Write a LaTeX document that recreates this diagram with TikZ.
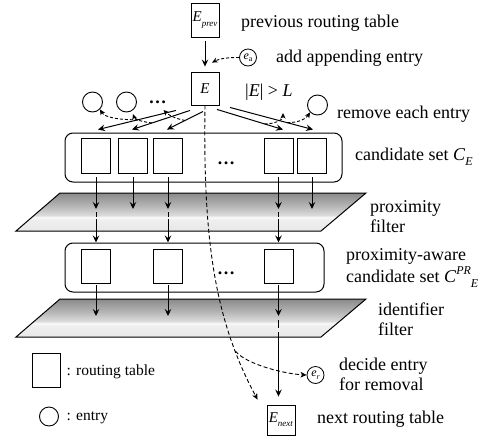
\documentclass[tikz,border=0pt]{standalone}
\usepackage{fontspec}
\setmainfont{Liberation Serif}
\usetikzlibrary{arrows.meta,calc}

% glossy grey shading of the two filter planes
\definecolor{fltTop}{HTML}{8A8A8A}
\definecolor{fltUp}{HTML}{B0B0B0}
\definecolor{fltMid}{HTML}{DADADA}
\definecolor{fltBand}{HTML}{FAFAFA}
\definecolor{fltLow}{HTML}{EFEFEF}
\definecolor{fltBot}{HTML}{E8E8E8}
\pgfdeclareverticalshading{filtershade}{100bp}{%
  color(0bp)=(fltBot); color(25bp)=(fltBot); color(40bp)=(fltLow);
  color(43bp)=(fltBand); color(46bp)=(fltMid); color(60bp)=(fltUp);
  color(75bp)=(fltTop); color(100bp)=(fltTop)}

% lowered / raised italic indices
\newcommand{\sublow}[2][9]{\raisebox{-0.28em}{\fontsize{#1}{#1}\selectfont\textit{#2}}}
\newcommand{\suphigh}[2][12]{\raisebox{0.42em}{\fontsize{#1}{#1}\selectfont\textit{#2}}}

\begin{document}
\begin{tikzpicture}[x=1pt,y=-1pt,
  tbl/.style={draw, line width=0.9pt, fill=white, minimum width=28pt,
    minimum height=34pt, inner sep=0pt, font=\fontsize{15}{17}\selectfont},
  ent/.style={draw, circle, line width=0.9pt, minimum size=20pt, inner sep=0pt},
  smallent/.style={draw, circle, line width=0.8pt, minimum size=17pt, inner sep=0pt,
    font=\fontsize{12}{13}\selectfont},
  grp/.style={draw, rounded corners=8pt, line width=1pt, inner sep=0pt},
  plane/.style={draw, line width=1pt, shading=filtershade},
  lbl/.style={anchor=base west, inner sep=0pt, font=\fontsize{18}{21}\selectfont},
  leg/.style={anchor=base west, inner sep=0pt, font=\fontsize{15.5}{18}\selectfont},
  dotsty/.style={inner sep=0pt, font=\fontsize{18}{20}\selectfont\bfseries},
  flow/.style={line width=1pt, -{Stealth[length=7pt,width=6.5pt,inset=2.5pt]}},
  rem/.style={line width=0.9pt, dash pattern=on 3pt off 2pt,
    -{Stealth[length=5.5pt,width=5pt,inset=1.5pt]}},
  remlong/.style={line width=0.9pt, dash pattern=on 4pt off 2.5pt,
    -{Stealth[length=6pt,width=5.5pt,inset=1.5pt]}},
  gap/.style={line width=1pt},
]
\useasboundingbox (0,0) rectangle (488,445);

% filter planes
\path[plane] (60,193) -- (366,193) -- (321,231) -- (16,231) -- cycle;
\path[plane] (60,299) -- (366,299) -- (321,337) -- (16,337) -- cycle;
\coordinate (pfhit) at (0,209);
\coordinate (pfgapA) at (0,212);
\coordinate (pfgapB) at (0,217);
\coordinate (pfout) at (0,219);
\coordinate (ifhit) at (0,316);
\coordinate (ifgapA) at (0,320);
\coordinate (ifgapB) at (0,328);
\coordinate (ifout) at (0,332);

% candidate groups
\node[grp, minimum width=277pt, minimum height=49pt] (CE) at (203.5,157.5) {};
\node[grp, minimum width=259pt, minimum height=49pt] (CPR) at (194.5,267.5) {};

% routing tables
\node[tbl] (prev) at (205,20) {\textit{E}\sublow{prev}};
\node[tbl, minimum height=33pt] (E) at (205,88.5) {\textit{E}};
\node[tbl, minimum height=30pt] (next) at (281,420) {\textit{E}\sublow{next}};

\foreach \n/\x in {u1/96, u2/133, u3/168, u4/278.5, u5/312}
  \node[tbl, minimum width=29pt, minimum height=35pt] (\n) at (\x,155.5) {};
\foreach \n/\x in {l1/96, l2/168, l3/278.5}
  \node[tbl, minimum width=29pt, minimum height=34pt] (\n) at (\x,266) {};

\node[dotsty] (dotsT) at (157.5,102) {…};
\node[dotsty] (dotsU) at (226,163) {…};
\node[dotsty] (dotsL) at (226,273) {…};

% entries
\node[ent] (c1) at (92.5,102) {};
\node[ent] (c2) at (126.5,102) {};
\node[ent] (c5) at (317.5,105) {};
\node[smallent] (ea) at (248,57.5) {\textit{e}\raisebox{-0.2em}{\fontsize{8}{8}\selectfont a}};
\node[smallent] (er) at (315.5,375) {\textit{e}\raisebox{-0.2em}{\fontsize{8}{8}\selectfont\textit{r}}};

% previous table and appended entry
\draw[flow, shorten <=4pt, shorten >=5pt] (prev) -- (E);
\draw[rem] (ea.west) .. controls +(-12,0) and +(8,-4) .. ($(E.north)+(7,-9)$);

% one candidate per removed entry
\draw[flow] ($(E.south)+(-29,5)$) -- ($(u1.north)+(2,-8)$) coordinate[pos=0.49] (r1);
\draw[flow] ($(E.south)+(-15,5)$) -- ($(u2.north)+(-1,-8)$) coordinate[pos=0.655] (r2);
\draw[flow] ($(E.south)+(-2,6)$) -- ($(u3.north)+(-1,-8)$) coordinate[pos=0.5] (r3);
\draw[flow] ($(E.south)+(12,4)$) -- ($(u4.north)+(4.5,-8)$) coordinate[pos=0.72] (r4);
\draw[flow] ($(E.south)+(25,2)$) -- ($(u5.north)+(1,-8)$) coordinate[pos=0.69] (r5);

\draw[rem] (r1) .. controls +(-20,0) and +(5,8) .. (c1.south east);
\draw[rem] (r2) .. controls +(-8,-1) and +(2,6) .. ($(c2.center)+(6.5,12)$);
\draw[rem] (r3) .. controls +(-10,-2) and +(5,5) .. ($(dotsT.center)+(6,8)$);
\draw[rem] (r4) .. controls +(10,0) and +(0,7) .. ($(c5.center)+(-34.5,8)$);
\draw[rem] (r5) .. controls +(12,0) and +(-4,6) .. (c5.south west);

% through the proximity filter
\foreach \b in {u1,u2,u3,u4,u5}
  \draw[flow, shorten <=4pt] (\b.south) -- (\b |- pfhit);
\foreach \b in {u1,u3,u4} {
  \draw[gap] (\b |- pfgapA) -- (\b |- pfgapB);
  \draw[flow] (\b |- pfout) -- (\b |- CPR.north);
}

% through the identifier filter
\foreach \b in {l1,l2,l3}
  \draw[flow, shorten <=2pt] (\b.south) -- (\b |- ifhit);
\draw[gap] (l3 |- ifgapA) -- (l3 |- ifgapB);
\draw[flow, shorten >=8pt] (l3 |- ifout) -- (l3 |- next.north);

% entry chosen for removal
\draw[remlong] (E.south) .. controls +(-2,135) and +(-43,-80) ..
  ($(next.north west)+(-9,-5)$) coordinate[pos=0.8] (split);
\draw[remlong] (split) .. controls +(12,14) and +(-20,-1) .. (er.west);

% labels
\node[lbl] (tPrev) at (241,27) {previous routing table};
\node[lbl] (tAdd) at (276,62) {add appending entry};
\node[lbl] (tCond) at (245,96) {|\textit{E}| > \textit{L}};
\node[lbl] (tRem) at (337,118) {remove each entry};
\node[lbl] (tCE) at (355,160) {candidate set \textit{C}\sublow[12]{E}};
\node[lbl] (tPf1) at (370,212) {proximity};
\node[lbl] (tPf2) at (370,232) {filter};
\node[lbl] (tCP1) at (346,260) {proximity-aware};
\node[lbl] (tCP2) at (346,282) {candidate set \textit{C}\suphigh{PR}\sublow[12]{E}};
\node[lbl] (tIf1) at (378,315) {identifier};
\node[lbl] (tIf2) at (378,335) {filter};
\node[lbl] (tDec1) at (339,370) {decide entry};
\node[lbl] (tDec2) at (339,390) {for removal};
\node[lbl] (tNext) at (317,423) {next routing table};

% legend
\node[tbl] (legT) at (46,370) {};
\node[leg] (legTt) at (66.5,375) {: routing table};
\node[ent, minimum size=19pt] (legE) at (49,416.5) {};
\node[leg] (legEt) at (66.5,420) {: entry};
\end{tikzpicture}
\end{document}
